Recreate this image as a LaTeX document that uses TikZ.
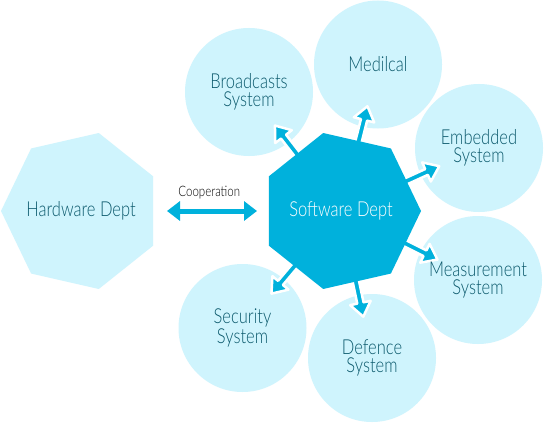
\documentclass[tikz,border=0pt]{standalone}
\usepackage{fontspec}
\setmainfont{Lato}[UprightFont={* Light}]
\usetikzlibrary{shapes.geometric,arrows.meta,calc}
\definecolor{light}{HTML}{CFF4FD}
\definecolor{dark}{HTML}{00B1DC}
\definecolor{txt}{HTML}{0C5A6D}
\tikzset{
  bubble/.style={circle, fill=light, minimum size=128pt, inner sep=0pt, outer sep=0pt},
  hept/.style={regular polygon, regular polygon sides=7, minimum size=160pt, inner sep=0pt, outer sep=0pt},
  lbl/.style={align=center, text=txt, font=\fontsize{16.5}{14.3}\selectfont, yscale=1.25, transform shape, inner sep=0pt},
  spokeshape/.style={fill=dark, draw=white, line width=2.5pt, line join=round},
  spoke/.pic={\path[spokeshape] (70,-3.2) -- (94,-3.2) -- (94,-10.5) -- (108,0) -- (94,10.5) -- (94,3.2) -- (70,3.2) -- cycle;},
  coop/.style={draw=dark, line width=5pt, {Triangle[length=13pt,width=19pt]}-{Triangle[length=13pt,width=19pt]}}
}
\begin{document}
\begin{tikzpicture}[x=1pt, y=-1pt]
\useasboundingbox[fill=white] (0,0) rectangle (545,425);
% bubbles
\node[bubble] (br) at (249,92) {};
\node[bubble] (me) at (378,64.5) {};
\node[bubble] (em) at (479,148) {};
\node[bubble] (ms) at (478,280) {};
\node[bubble] (de) at (372,358) {};
\node[bubble] (se) at (242.5,328) {};
% hardware
\node[hept, fill=light, shape border rotate=90] (hw) at (81,211) {};
% software centre
\coordinate (sw) at (341,211);
% spokes
\foreach \c in {br,me,em,ms,de,se} {
  \path let \p1=($(\c)-(sw)$), \n1={atan2(\y1,\x1)} in (sw) pic[rotate=\n1] {spoke};
}
\node[hept, fill=dark, shape border rotate=-90] (swh) at (sw) {};
% labels
\node[lbl] at (br) {Broadcasts\\System};
\node[lbl] at (me) {Medilcal};
\node[lbl] at (em) {Embedded\\System};
\node[lbl] at (ms) {Measurement\\System};
\node[lbl] at (de) {Defence\\System};
\node[lbl] at (se) {Security\\System};
\node[lbl] at (hw) {Hardware Dept};
\node[lbl, text=white] at (swh) {Software Dept};
% cooperation
\coordinate (cl) at (167,211);
\coordinate (cr) at (257,211);
\draw[coop] (cl) -- (cr);
\node[lbl, text=black, font=\fontsize{11.5}{12}\selectfont] (ct) at ($(cl)!0.47!(cr)+(0,-18)$) {Cooperation};
\end{tikzpicture}
\end{document}
